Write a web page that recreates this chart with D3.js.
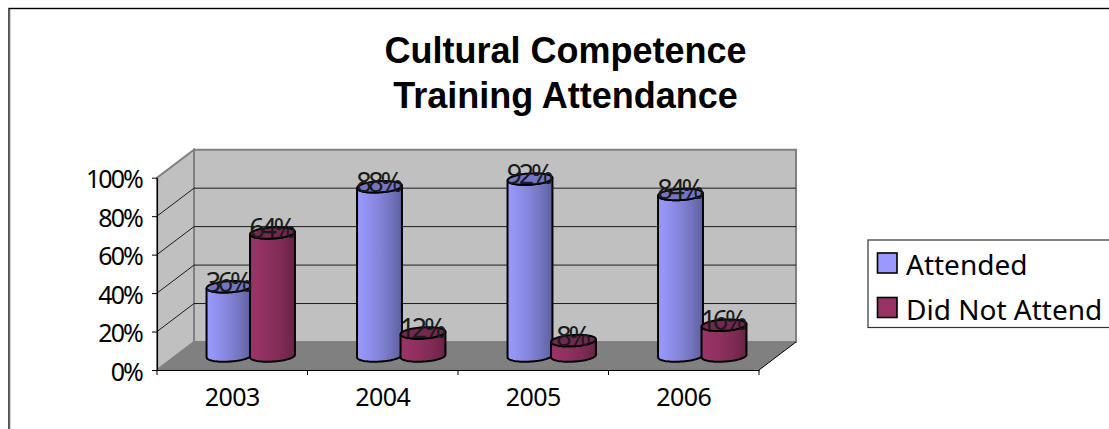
<!DOCTYPE html>
<html><head><meta charset="utf-8">
<script src="https://d3js.org/d3.v7.min.js"></script>
<style>html,body{margin:0;padding:0;background:#fff}svg{display:block}</style>
</head><body><svg id="c" width="1109" height="429"></svg>
<script>
const categories = ["2003","2004","2005","2006"];
const seriesNames = ["Attended","Did Not Attend"];
const attended = [36,88,92,84];
const didNotAttend = [64,12,8,16];
const yTicks = [0,20,40,60,80,100];
const titleLines = ["Cultural Competence","Training Attendance"];

const colors = {
  "Attended": {base:"#9999ff", top:"#7575c6", stops:["#9a9aff","#9797fa","#9494f4","#9090ee","#8d8de8","#8989e2","#8585dc","#8181d5","#7c7ccd","#7777c5","#7272bc","#6b6bb2","#6565a8","#60609e"]},
  "Did Not Attend": {base:"#993366", top:"#76274f", stops:["#9c3468","#993366","#973364","#943262","#913160","#8e305e","#8b2f5c","#872d5a","#842c58","#802b55","#7b2951","#75274d","#6d2548","#642243"]}
};
const svg = d3.select("#c");
const fontUi = "'Noto Sans','Open Sans',sans-serif";

svg.append("rect").attr("x",9).attr("y",8.5).attr("width",1140).attr("height",460)
  .attr("fill","#fff").attr("stroke","#000").attr("stroke-width",1.4);
svg.append("line").attr("x1",9.5).attr("x2",9.5).attr("y1",9).attr("y2",429).attr("stroke","#666").attr("stroke-width",1.6);

const title = svg.append("g");
titleLines.forEach((t,i)=>title.append("text").attr("x",565.5).attr("y",[63,108][i])
  .attr("text-anchor","middle").attr("font-family","'Liberation Sans',Arial,sans-serif")
  .attr("font-weight","bold").attr("font-size",36).attr("fill","#000").text(t));

// scales on the front plane
const y = d3.scaleLinear().domain([0,100]).range([370,177.7]);
const x = d3.scaleBand().domain(categories).range([157,759]);
const depth = {dx:37, dy:-28};
const mid = {dx:18.5, dy:-14};
const ser = d3.scaleBand().domain(seriesNames).range([-43.5,43.5]);

// walls
const grey="#808080";
const poly=(pts,fill,stroke,sw)=>svg.append("polygon").attr("points",pts.map(p=>p.join(",")).join(" "))
  .attr("fill",fill).attr("stroke",stroke).attr("stroke-width",sw).attr("stroke-linejoin","miter");
const xL=x.range()[0], xR=x.range()[1];
poly([[xL+depth.dx,y(0)+depth.dy],[xL+depth.dx,y(100)+depth.dy],[xR+depth.dx,y(100)+depth.dy],[xR+depth.dx,y(0)+depth.dy]],"#c0c0c0",grey,2);
poly([[xL,y(0)],[xL,y(100)],[xL+depth.dx,y(100)+depth.dy],[xL+depth.dx,y(0)+depth.dy]],"#c0c0c0",grey,2);
poly([[xL,y(0)],[xL+depth.dx,y(0)+depth.dy],[xR+depth.dx,y(0)+depth.dy],[xR,y(0)]],grey,"none",0);

// gridlines
yTicks.filter(d=>d>0&&d<100).forEach(d=>{
  svg.append("path").attr("fill","none").attr("stroke","#1c1c1c").attr("stroke-width",1)
    .attr("d",`M${xL},${y(d)}L${xL+depth.dx},${y(d)+depth.dy}L${xR+depth.dx},${y(d)+depth.dy}`);
});
svg.append("line").attr("x1",xR).attr("y1",y(0)).attr("x2",xR+depth.dx).attr("y2",y(0)+depth.dy).attr("stroke","#000").attr("stroke-width",1);

// axes
const yAxis = d3.axisLeft(y).tickValues(yTicks).tickFormat(d=>d+"%").tickSize(5).tickPadding(10).tickSizeOuter(0);
const gy = svg.append("g").attr("transform",`translate(${xL},0)`).call(yAxis);
const xAxis = d3.axisBottom(x).tickValues([]).tickSize(0);
const gx = svg.append("g").attr("transform",`translate(0,${y(0)})`).call(xAxis);
[gx,gy].forEach(g=>{g.selectAll("path").attr("stroke","#000").attr("stroke-width",1.2);g.selectAll("line").attr("stroke","#000");});
gy.selectAll("text").attr("font-family",fontUi).attr("font-size",25).attr("fill","#000").attr("letter-spacing",-1.9).attr("dy","10px");
// category separators and labels
const sep = svg.append("g");
categories.forEach((c,i)=>{
  sep.append("line").attr("x1",x(c)).attr("x2",x(c)).attr("y1",y(0)).attr("y2",y(0)+5).attr("stroke","#000");
  sep.append("text").attr("x",x(c)+x.bandwidth()/2).attr("y",y(0)+36).attr("text-anchor","middle")
    .attr("font-family",fontUi).attr("font-size",25).attr("fill","#000").attr("letter-spacing",-0.6).text(c);
});
sep.append("line").attr("x1",xR).attr("x2",xR).attr("y1",y(0)).attr("y2",y(0)+5).attr("stroke","#000");

// gradients
const defs = svg.append("defs");
seriesNames.forEach((s,i)=>{
  const g = defs.append("linearGradient").attr("id","g"+i);
  colors[s].stops.forEach((c,k,a)=>g.append("stop").attr("offset",k/(a.length-1)).attr("stop-color",c));
});

// cylinders
const rx=22.5, ry=5.6, tilt=-3.5*Math.PI/180;
const ell=(cx,cy,t)=>[cx+rx*Math.cos(t)*Math.cos(tilt)-ry*Math.sin(t)*Math.sin(tilt),
                      cy+rx*Math.cos(t)*Math.sin(tilt)+ry*Math.sin(t)*Math.cos(tilt)];
const arcAngles=d3.range(0,37).map(k=>k*Math.PI/36);
const line=d3.line();
const values=[attended,didNotAttend];
const cyl = svg.append("g");
const labels=[];
categories.forEach((c,ci)=>{
  seriesNames.forEach((s,si)=>{
    const v=values[si][ci];
    const cx=x(c)+x.bandwidth()/2+mid.dx+ser(s)+ser.bandwidth()/2;
    const yBase=y(0)+mid.dy, yTop=y(v)+mid.dy;
    const g=cyl.append("g");
    const body=[...arcAngles.map(t=>ell(cx,yBase,t)),...arcAngles.map(t=>ell(cx,yTop,Math.PI-t))];
    g.append("path").attr("fill",`url(#g${si})`).attr("stroke","#000").attr("stroke-width",2)
     .attr("d",line(body)+"Z");
    g.append("path").attr("fill",colors[s].top).attr("stroke","#000").attr("stroke-width",2)
     .attr("d",line(d3.range(0,73).map(k=>ell(cx,yTop,k*Math.PI/36)))+"Z");
    labels.push({cx,yTop,v});
  });
});
// data labels
svg.append("g").selectAll("text").data(labels).join("text")
  .attr("x",d=>d.cx-1.5).attr("y",d=>d.yTop+5).attr("text-anchor","middle")
  .attr("font-family",fontUi).attr("font-size",27).attr("letter-spacing",-3.2).attr("fill","#1a1a1a")
  .text(d=>d.v+"%");

// legend
const lg = svg.append("g");
lg.append("rect").attr("x",868).attr("y",240).attr("width",300).attr("height",87.5).attr("fill","#fff").attr("stroke","#333").attr("stroke-width",1.2);
seriesNames.forEach((s,i)=>{
  const yy=[253,297.5][i];
  lg.append("rect").attr("x",877.5).attr("y",yy).attr("width",19.5).attr("height",20)
    .attr("fill",colors[s].base).attr("stroke","#000").attr("stroke-width",1.6);
  lg.append("text").attr("x",906).attr("y",yy+22).attr("font-family",fontUi).attr("font-size",28).attr("fill","#000").text(s);
});
</script></body></html>
